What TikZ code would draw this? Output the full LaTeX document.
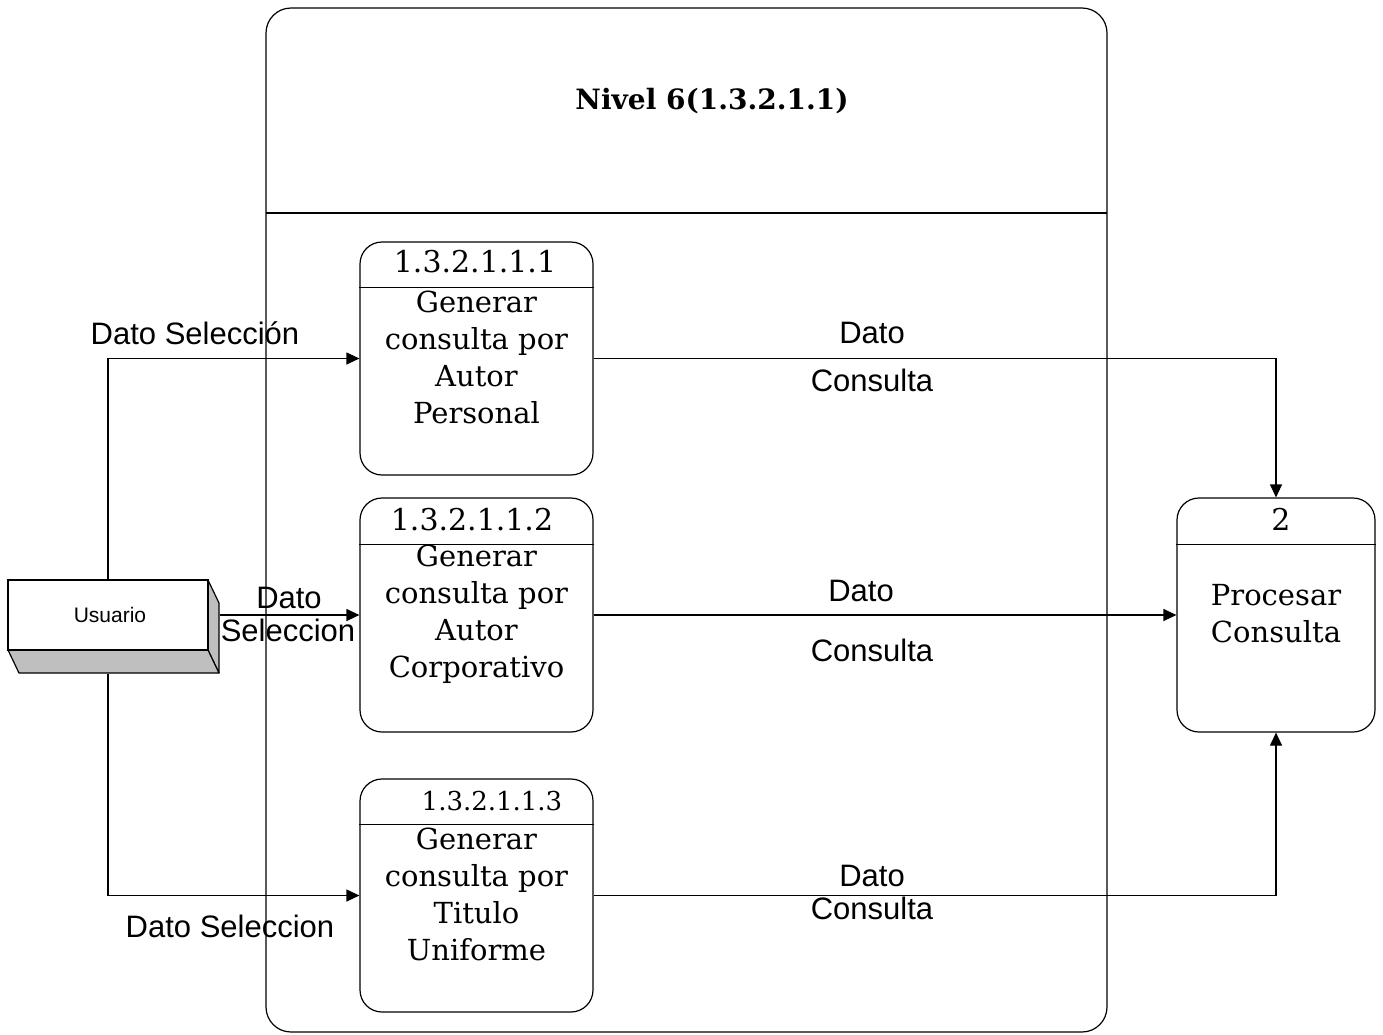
\documentclass[tikz,border=0pt]{standalone}
\usepackage{fontspec}
\setmainfont{DejaVu Serif}
\newfontfamily\labelfont{Liberation Sans}
\usetikzlibrary{arrows.meta}
\begin{document}
\begin{tikzpicture}[x=1pt,y=-1pt,line width=1.2pt,
  proc/.style={draw,rounded corners=22pt,minimum width=233pt,minimum height=233pt,inner sep=0pt},
  bodytext/.style={align=center,inner sep=0pt,font=\fontsize{29}{37}\selectfont},
  idtext/.style={inner sep=0pt,font=\fontsize{30}{32}\selectfont},
  lbl/.style={inner sep=0pt,font=\labelfont\fontsize{31}{34}\selectfont},
  arr/.style={-{Triangle[length=13pt,width=12pt]}},
  shade/.style={draw,fill=black!25,line join=round}]
\useasboundingbox (0,0) rectangle (1383,1034);

% frame
\draw[rounded corners=25pt] (266,8) rectangle (1107,1032);
\draw (266,213) -- (1107,213);
\node[inner sep=0pt,font=\bfseries\fontsize{28}{32}\selectfont] (title) at (712,101) {Nivel 6(1.3.2.1.1)};

% processes
\node[proc] (p1) at (476.5,358.5) {};
\draw ([yshift=-46pt]p1.north west) -- ([yshift=-46pt]p1.north east);
\node[idtext] (p1id) at (475,262) {1.3.2.1.1.1};
\node[bodytext] (p1t) at (476.5,357.5) {Generar\\consulta por\\Autor\\Personal};

\node[proc,minimum height=234pt] (p2) at (476.5,615) {};
\draw ([yshift=-47pt]p2.north west) -- ([yshift=-47pt]p2.north east);
\node[idtext] (p2id) at (472,520) {1.3.2.1.1.2};
\node[bodytext] (p2t) at (476.5,614.5) {Generar\\consulta por\\Autor\\Corporativo};

\node[proc] (p3) at (476.5,895.5) {};
\draw ([yshift=-46pt]p3.north west) -- ([yshift=-46pt]p3.north east);
\node[idtext,font=\fontsize{26}{28}\selectfont] (p3id) at (492,801) {1.3.2.1.1.3};
\node[bodytext] (p3t) at (476.5,894.5) {Generar\\consulta por\\Titulo\\Uniforme};

\node[proc,minimum width=198pt,minimum height=234pt] (p4) at (1276,615) {};
\draw ([yshift=-47pt]p4.north west) -- ([yshift=-47pt]p4.north east);
\node[idtext] (p4id) at (1281,519) {2};
\node[bodytext] (p4t) at (1276,614) {Procesar\\Consulta};

% external entity
\draw[shade] (208,580) -- (219,603) -- (219,673) -- (208,650) -- cycle;
\draw[shade] (8,650) -- (208,650) -- (219,673) -- (19,673) -- cycle;
\node[draw,fill=white,minimum width=200pt,minimum height=70pt,inner sep=0pt] (u) at (108,615) {};
\node[inner sep=0pt,font=\labelfont\fontsize{21}{24}\selectfont] (ut) at (110,615) {Usuario};

% connectors
\draw[arr] (u.north) -- (u.north |- p1.west) -- (p1.west);
\draw[arr] (u.east) ++(11,0) -- (p2.west);
\draw[arr] ([yshift=-23pt]u.south) -- (u.south |- p3.west) -- (p3.west);
\draw[arr] (p1.east) -- (p1.east -| p4.north) -- (p4.north);
\draw[arr] (p2.east) -- (p4.west);
\draw[arr] (p3.east) -- (p3.east -| p4.south) -- (p4.south);

% labels
\node[lbl] (l1) at (195,333) {Dato Selección};
\node[lbl] (l2a) at (289,598) {Dato};
\node[lbl] (l2b) at (288,630) {Seleccion};
\node[lbl] (l3) at (230,926) {Dato Seleccion};
\node[lbl] (l4a) at (872,333) {Dato};
\node[lbl] (l4b) at (872,380) {Consulta};
\node[lbl] (l5a) at (861,591) {Dato};
\node[lbl] (l5b) at (872,650) {Consulta};
\node[lbl] (l6a) at (872,876) {Dato};
\node[lbl] (l6b) at (872,908) {Consulta};
\end{tikzpicture}
\end{document}
